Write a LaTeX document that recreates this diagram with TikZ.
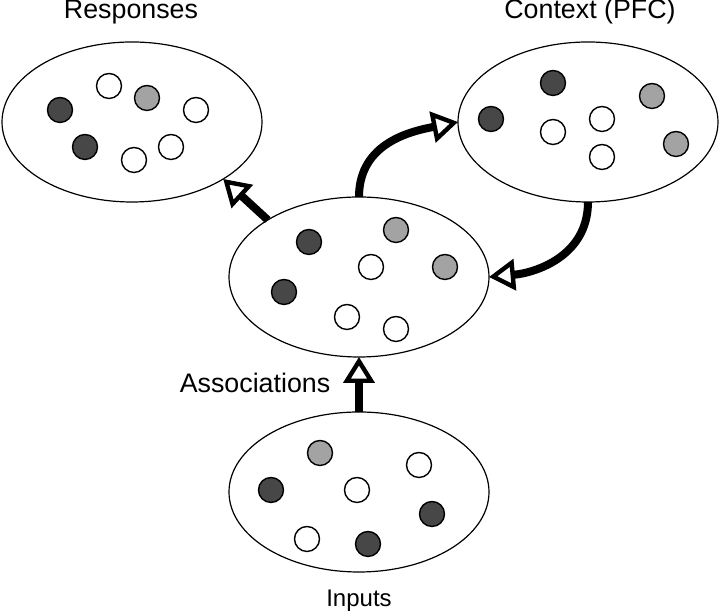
\documentclass[tikz,border=0pt]{standalone}
\usepackage{fontspec}
\setmainfont{Liberation Sans}
\usetikzlibrary{shapes.geometric,arrows.meta}
\begin{document}
\begin{tikzpicture}[x=0.5pt,y=-0.5pt,
  pool/.style={ellipse,draw,line width=0.6pt,minimum width=130pt,minimum height=80pt,inner sep=0pt,outer sep=0pt},
  wdot/.style={draw,line width=0.7pt,fill=white},
  ddot/.style={draw,line width=0.7pt,fill=black!72},
  gdot/.style={draw,line width=0.7pt,fill=black!36},
  flow/.style={line width=4pt,-{Triangle[fill=white,line width=2.2pt,length=13pt,width=15.5pt]}},
  lbl/.style={font=\fontsize{13.4}{16}\selectfont,inner sep=0pt,anchor=base},
  lbls/.style={font=\fontsize{12}{14}\selectfont,inner sep=0pt,anchor=base}]
\useasboundingbox (0,0) rectangle (720,613);
% pools
\node[pool] (resp) at (132,122) {};
\node[pool] (ctx) at (588,122) {};
\node[pool] (assoc) at (359,277) {};
\node[pool] (inp) at (359,492) {};
% labels
\node[lbl] (tresp) at (131,19) {Responses};
\node[lbl] (tctx) at (590,19) {Context (PFC)};
\node[lbl] (tassoc) at (255,393) {Associations};
\node[lbls] (tinp) at (359,607) {Inputs};
% dots: responses
\def\rr{6.25pt}
\draw[wdot] (109,86) circle (\rr);
\draw[gdot] (147,98) circle (\rr);
\draw[ddot] (60,110) circle (\rr);
\draw[wdot] (196,110) circle (\rr);
\draw[ddot] (85,147) circle (\rr);
\draw[wdot] (134,160) circle (\rr);
\draw[wdot] (171,147) circle (\rr);
% dots: context
\draw[ddot] (553,83) circle (\rr);
\draw[ddot] (491,119) circle (\rr);
\draw[gdot] (652,96) circle (\rr);
\draw[wdot] (553,132) circle (\rr);
\draw[wdot] (602,119) circle (\rr);
\draw[wdot] (602,157) circle (\rr);
\draw[gdot] (676,144) circle (\rr);
% dots: associations
\draw[ddot] (309,242) circle (\rr);
\draw[gdot] (396,230) circle (\rr);
\draw[wdot] (371,267) circle (\rr);
\draw[gdot] (445,267) circle (\rr);
\draw[ddot] (284,292) circle (\rr);
\draw[wdot] (347,317) circle (\rr);
\draw[wdot] (396,329) circle (\rr);
% dots: inputs
\draw[gdot] (320,453) circle (\rr);
\draw[wdot] (419,465) circle (\rr);
\draw[ddot] (271,490) circle (\rr);
\draw[wdot] (357,490) circle (\rr);
\draw[ddot] (432,514) circle (\rr);
\draw[wdot] (307,539) circle (\rr);
\draw[ddot] (368,544) circle (\rr);
% connectors
\draw[flow] (inp.north) -- (assoc.south);
\draw[flow] (assoc.148) -- (resp.-32);
\draw[flow] (assoc.north) .. controls +(0,-55) and +(-45,9) .. (ctx.west);
\draw[flow] (ctx.south) .. controls +(0,55) and +(45,-4) .. (assoc.east);
\end{tikzpicture}
\end{document}
